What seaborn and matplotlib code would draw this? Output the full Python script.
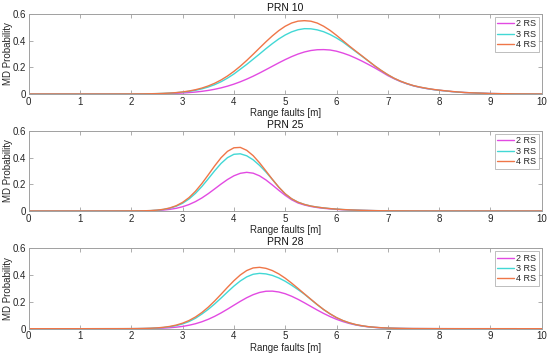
import numpy as np
import pandas as pd
import matplotlib
matplotlib.use("Agg")
import matplotlib.pyplot as plt
import seaborn as sns

series_names = ["2 RS", "3 RS", "4 RS"]
titles = ["PRN 10", "PRN 25", "PRN 28"]

# Range fault sample positions [m] for each panel
x_prn10 = [0.0, 1.5] + list(np.arange(2.0, 8.5 + 1e-9, 0.125)) + [9.0, 9.5, 10.0]
x_prn25 = [0.0, 1.0] + list(np.arange(1.5, 7.0 + 1e-9, 0.125)) + [7.5, 8.0, 10.0]
x_prn28 = [0.0, 1.0] + list(np.arange(1.75, 7.5 + 1e-9, 0.125)) + [8.0, 8.5, 10.0]

# PRN 10
prn10_2rs = [0, 0,
             .0003, .0004, .0007, .0011, .0016, .0024, .0036, .0052,
             .0075, .0106, .0146, .020, .0268, .0354, .046, .0588,
             .074, .0916, .1115, .1335, .1574, .1825, .2082, .2337,
             .258, .2803, .2997, .3152, .3261, .332, .333, .330,
             .321, .307, .29, .269, .246, .221, .195, .167,
             .138, .114, .093, .076, .061, .050, .041, .034,
             .028, .023, .018, .014, .011,
             .0035, .0008, .0001]
prn10_3rs = [0, 0,
             .0005, .0008, .0013, .002, .003, .0046, .0068, .0099,
             .0141, .0198, .0277, .0385, .0524, .070, .092, .119,
             .150, .186, .222, .261, .300, .340, .378, .413,
             .4425, .466, .482, .490, .489, .481, .467, .446,
             .42, .39, .354, .318, .282, .246, .209, .175,
             .144, .117, .095, .077, .062, .051, .042, .034,
             .028, .023, .018, .014, .011,
             .0035, .0008, .0001]
prn10_4rs = [0, 0,
             .0004, .0007, .0011, .0018, .0029, .0046, .007, .0105,
             .0156, .0225, .032, .0443, .0604, .0805, .1053, .135,
             .1696, .2087, .2518, .2977, .345, .3918, .4359, .4754,
             .5082, .5323, .5464, .55, .546, .532, .508, .477,
             .44, .40, .36, .322, .285, .247, .21, .176,
             .145, .118, .096, .078, .063, .052, .043, .035,
             .029, .024, .019, .015, .011,
             .0035, .0008, .0001]

# PRN 25
prn25_2rs = [0, 0,
             .0001, .0001, .0002, .0003,
             .0004, .0006, .0011, .0021, .0039, .0071, .0122, .0202,
             .032, .0485, .0703, .0977, .130, .1657, .2021, .236,
             .264, .2827, .29, .2837, .2637, .2327, .195, .1552,
             .1173, .0842, .060, .045, .034, .026, .020, .016,
             .012, .0095, .0073, .0056, .0043, .0033, .0025, .0018,
             .0013,
             .0004, .0001, 0]
prn25_3rs = [0, 0,
             .0001, .0002, .0003, .0005,
             .0007, .0011, .0016, .0029, .006, .0114, .0207, .0357,
             .058, .090, .132, .1834, .2415, .3015, .3568, .400,
             .4253, .429, .414, .384, .342, .2922, .236, .178,
             .128, .091, .066, .049, .037, .029, .023, .018,
             .014, .011, .0085, .0065, .005, .0038, .0028, .002,
             .0015,
             .0005, .0002, 0]
prn25_4rs = [0, 0,
             .0002, .0003, .0004, .0006,
             .0008, .0012, .0017, .0032, .0065, .0125, .0228, .0395,
             .0647, .1004, .1477, .2056, .271, .3382, .3997, .4473,
             .474, .477, .455, .4152, .3614, .30, .2375, .179,
             .129, .092, .066, .049, .037, .029, .023, .018,
             .014, .011, .0085, .0065, .005, .0038, .0028, .002,
             .0015,
             .0005, .0002, 0]

# PRN 28
prn28_2rs = [0, 0,
             .0001, .0001,
             .0002, .0005, .0009, .0015, .0026, .0044, .0072, .0113,
             .0173, .0257, .037, .0517, .0701, .0922, .1177, .1458,
             .1752, .2043, .2312, .2538, .2704, .2795, .2804, .274,
             .261, .2422, .2192, .1932, .1661, .1391, .1136, .0904,
             .0701, .053, .039, .028, .0196, .0135, .0092, .0062,
             .0043, .003, .002, .0013, .0009,
             .0003, .0001, 0]
prn28_3rs = [0, 0,
             .0002, .0003,
             .0005, .0009, .0017, .003, .0052, .0088, .0144, .0229,
             .0355, .0534, .0777, .1093, .1445, .1848, .2287, .274,
             .3177, .3563, .3867, .4063, .413, .409, .3975, .3787,
             .354, .3245, .2919, .2575, .218, .179, .142, .110,
             .082, .060, .043, .030, .021, .0145, .010, .0069,
             .0048, .0033, .0022, .0014, .0009,
             .0003, .0001, 0]
prn28_4rs = [0, 0,
             .0003, .0004,
             .0006, .001, .0019, .0034, .0061, .0103, .017, .0269,
             .0413, .061, .0873, .1205, .1606, .2067, .2571, .3088,
             .3581, .4011, .434, .4534, .458, .4504, .4338, .4089,
             .3771, .3403, .3006, .2598, .2198, .180, .143, .111,
             .083, .061, .044, .031, .022, .015, .0105, .0072,
             .005, .0034, .0023, .0015, .001,
             .0003, .0001, 0]

panel_x = [x_prn10, x_prn25, x_prn28]
panels = [
    [prn10_2rs, prn10_3rs, prn10_4rs],
    [prn25_2rs, prn25_3rs, prn25_4rs],
    [prn28_2rs, prn28_3rs, prn28_4rs],
]

xticks = [0, 1, 2, 3, 4, 5, 6, 7, 8, 9, 10]
yticks = [0, 0.2, 0.4, 0.6]
ytick_labels = ["0", "0.2", "0.4", "0.6"]

colors = {"2 RS": "#e24ae2", "3 RS": "#42d8d5", "4 RS": "#ef7648"}

sns.set_theme(style="white")
plt.rcParams["font.family"] = ["Liberation Sans", "DejaVu Sans"]

fig = plt.figure(figsize=(5.5, 3.57), dpi=100)
W, H = 550.0, 357.0
left, right = 28.7, 541.7
tops = [14.0, 131.0, 248.3]
bots = [94.0, 211.0, 328.7]

text_col = "#262626"
spine_col = "#a0a0a0"

for i in range(3):
    ax = fig.add_axes([left / W, 1 - bots[i] / H, (right - left) / W, (bots[i] - tops[i]) / H])
    rows = []
    xs = panel_x[i]
    for name, vals in zip(series_names, panels[i]):
        assert len(vals) == len(xs), (titles[i], name, len(vals), len(xs))
        for xv, yv in zip(xs, vals):
            rows.append({"x": float(xv), "p": yv, "RS": name})
    df = pd.DataFrame(rows)
    sns.lineplot(data=df, x="x", y="p", hue="RS", palette=colors, ax=ax,
                 linewidth=1.0, legend=True, sort=True)
    ax.set_xlim(0, 10)
    ax.set_ylim(0, 0.6)
    ax.set_xticks(xticks)
    ax.set_xticklabels([str(t) for t in xticks])
    ax.set_yticks(yticks)
    ax.set_yticklabels(ytick_labels)
    ax.tick_params(direction="in", length=3, width=0.6, colors=spine_col,
                   labelcolor=text_col, labelsize=7, top=True, right=True, pad=2,
                   bottom=True, left=True)
    for s in ax.spines.values():
        s.set_color(spine_col)
        s.set_linewidth(0.7)
        s.set_visible(True)
    ax.set_title(titles[i], fontsize=7.5, color="#111111", pad=2.5)
    ax.set_xlabel("Range faults [m]", fontsize=7, color=text_col, labelpad=1)
    ax.set_ylabel("MD Probability", fontsize=7, color=text_col, va="center")
    ax.yaxis.set_label_coords(-0.0395, 0.5)
    handles, labels = ax.get_legend_handles_labels()
    leg = ax.legend(handles, labels, loc="upper right", fontsize=6.5, frameon=True,
                    fancybox=False, edgecolor="#a0a0a0", handlelength=1.9,
                    handletextpad=0.2, borderpad=0.3, labelspacing=0.15,
                    borderaxespad=0.3)
    leg.get_frame().set_linewidth(0.6)
    for t in leg.get_texts():
        t.set_color(text_col)

fig.savefig("out.png", dpi=100)
